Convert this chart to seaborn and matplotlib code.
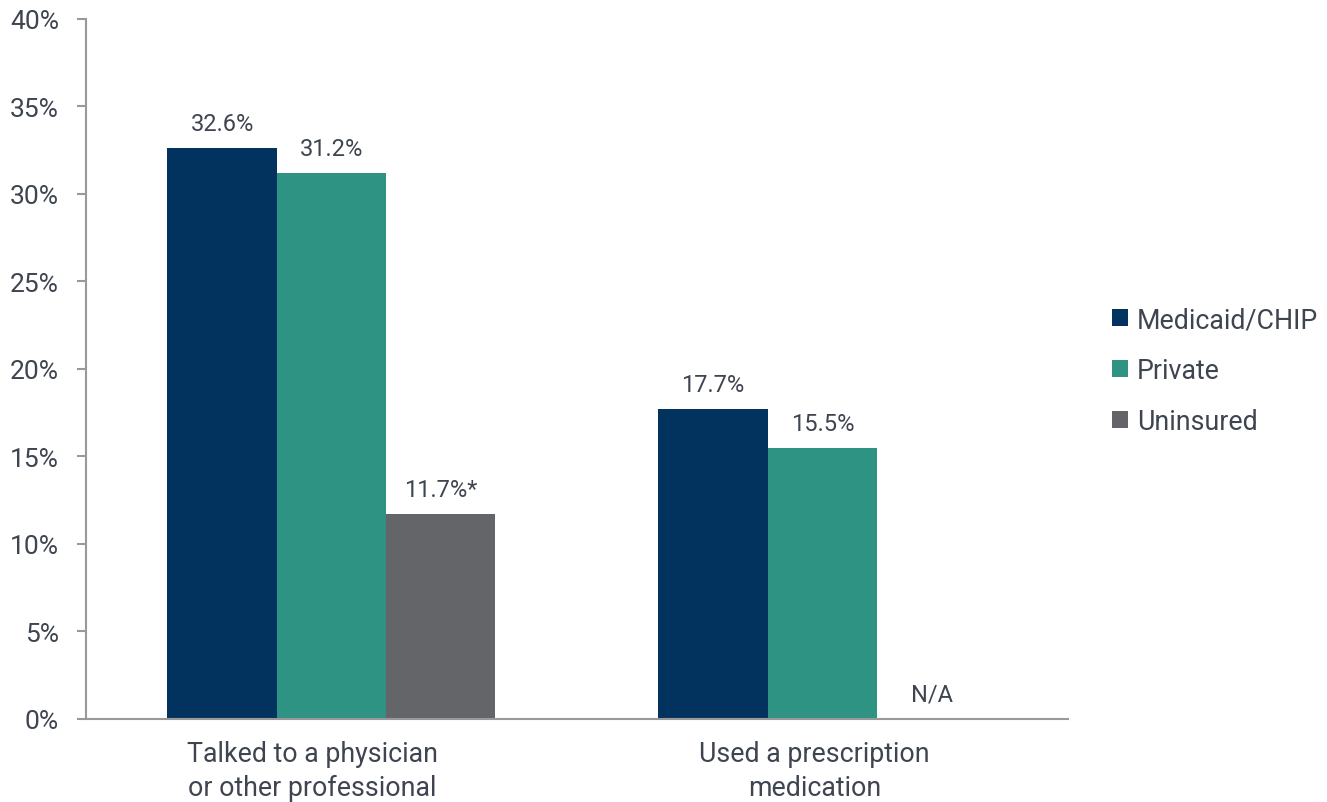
import matplotlib
matplotlib.use("Agg")
import matplotlib.pyplot as plt
import matplotlib.transforms as mtransforms
from matplotlib.patches import Patch
from matplotlib.ticker import PercentFormatter
import seaborn as sns
import pandas as pd
import numpy as np

categories = ["Talked to a physician\nor other professional", "Used a prescription\nmedication"]
groups = ["Medicaid/CHIP", "Private", "Uninsured"]
medicaid = [32.6, 17.7]
private = [31.2, 15.5]
uninsured = [11.7, np.nan]
value_labels = [["32.6%", "17.7%"], ["31.2%", "15.5%"], ["11.7%*", "N/A"]]
y_ticks = [0, 5, 10, 15, 20, 25, 30, 35, 40]

colors = ["#02335E", "#2E9383", "#646569"]
text_color = "#3F4550"
axis_color = "#999999"

df = pd.DataFrame({
    "category": categories * 3,
    "group": [g for g in groups for _ in categories],
    "value": medicaid + private + uninsured,
})

sns.set_theme(style="white")
plt.rcParams["font.family"] = ["Roboto", "DejaVu Sans"]

fig = plt.figure(figsize=(13.27, 8.03), dpi=100)
ax = fig.add_axes([0.0648, 0.1034, 0.74, 0.8717])

sns.barplot(data=df, x="category", y="value", hue="group", hue_order=groups,
            palette=colors, width=0.668, saturation=1, ax=ax, legend=False,
            linewidth=0)

ax.set_ylim(0, 40)
ax.set_xlim(-0.5, 1.5)
ax.set_yticks(y_ticks)
ax.yaxis.set_major_formatter(PercentFormatter(decimals=0))
ax.set_xlabel("")
ax.set_ylabel("")

for side in ["top", "right"]:
    ax.spines[side].set_visible(False)
for side in ["left", "bottom"]:
    ax.spines[side].set_color(axis_color)
    ax.spines[side].set_linewidth(1.5)

ax.tick_params(axis="y", which="major", left=True, length=6.5, width=1.5,
               color=axis_color, labelsize=19, labelcolor=text_color, pad=13)
ax.tick_params(axis="x", bottom=False, labelsize=19.3, labelcolor=text_color, pad=9)

# category labels sit slightly left of their bar groups
label_shift_px = [-19, -8]
for lbl, dx in zip(ax.get_xticklabels(), label_shift_px):
    lbl.set_linespacing(1.32)
    lbl.set_transform(lbl.get_transform() +
                      mtransforms.ScaledTranslation(dx / 100, 0, fig.dpi_scale_trans))

bar_w = 0.668 / 3
for gi, g in enumerate(groups):
    vals = [medicaid, private, uninsured][gi]
    for ci in range(len(categories)):
        xc = ci - 0.668 / 2 + bar_w * (gi + 0.5)
        v = vals[ci]
        y = (0 if np.isnan(v) else v) + 0.75
        ax.text(xc, y, value_labels[gi][ci], ha="center", va="bottom",
                fontsize=17, color=text_color)

handles = [Patch(facecolor=c, edgecolor="none") for c in colors]
fig.legend(handles, groups, loc="center left", bbox_to_anchor=(0.8195, 0.537),
           frameon=False, fontsize=19.3, labelcolor=text_color,
           handlelength=0.6, handleheight=0.6, handletextpad=0.35,
           labelspacing=0.9)

fig.savefig("out.png", dpi=100)
